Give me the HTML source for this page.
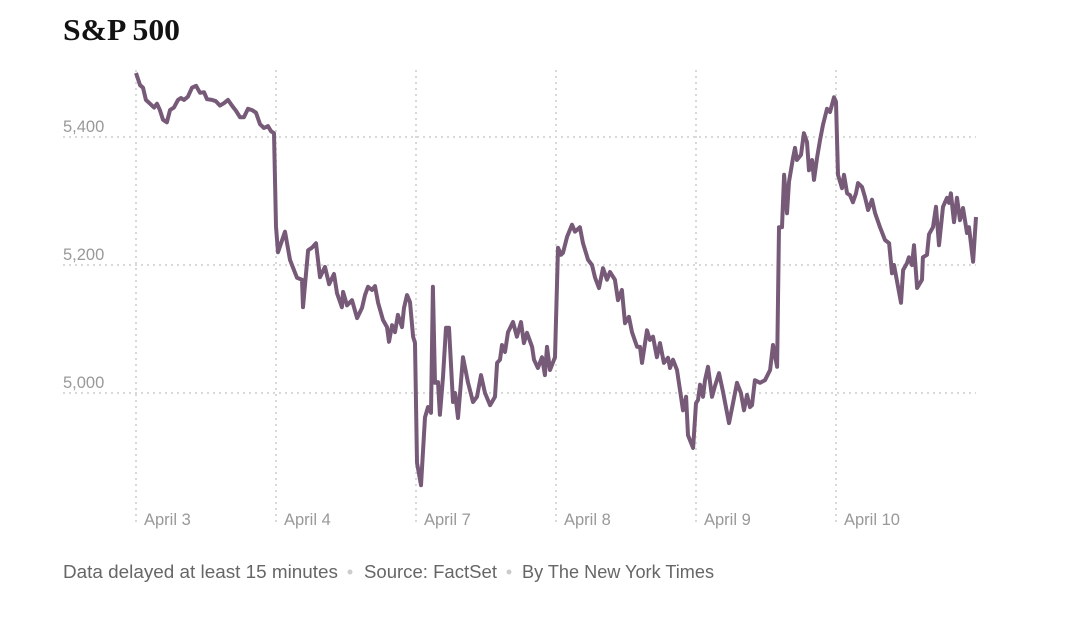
<!DOCTYPE html>
<html><head><meta charset="utf-8"><style>
body{margin:0;background:#fff;width:1080px;height:632px;overflow:hidden;font-family:"Liberation Sans",sans-serif}
</style></head><body>
<svg width="1080" height="632">
<text x="63" y="40" font-family="Liberation Serif,serif" font-weight="bold" font-size="31" fill="#121212" textLength="117" lengthAdjust="spacingAndGlyphs">S&amp;P 500</text>
<g id="grid"></g>
<g id="labels"></g>
<path id="line" fill="none" stroke="#765a78" stroke-width="4" stroke-linejoin="round"/>
<g font-size="18" fill="#666">
<text x="63" y="578" textLength="275" lengthAdjust="spacingAndGlyphs">Data delayed at least 15 minutes</text>
<circle cx="350" cy="572" r="2.5" fill="#ccc"/>
<text x="364" y="578" textLength="133" lengthAdjust="spacingAndGlyphs">Source: FactSet</text>
<circle cx="509" cy="572" r="2.5" fill="#ccc"/>
<text x="522" y="578" textLength="192" lengthAdjust="spacingAndGlyphs">By The New York Times</text>
</g>
</svg>
<script>
const yTicks=[5000,5200,5400];
const yTickLabels=["5,000","5,200","5,400"];
const dayLabels=["April 3","April 4","April 7","April 8","April 9","April 10"];
const times=[0,.029,.05,.071,.1,.129,.15,.171,.193,.221,.243,.271,.3,.321,.343,.371,.4,.429,.457,.486,.507,.543,.571,.6,.629,.657,.686,.714,.743,.771,.8,.829,.857,.886,.914,.943,.964,.986,
1.0,1.014,1.064,1.1,1.15,1.186,1.193,1.229,1.257,1.286,1.314,1.35,1.379,1.414,1.436,1.471,1.479,1.507,1.543,1.579,1.614,1.636,1.657,1.686,1.707,1.729,1.764,1.793,1.807,1.829,1.85,1.871,1.9,1.914,1.936,1.957,1.979,1.993,
2.007,2.036,2.064,2.086,2.107,2.121,2.136,2.157,2.171,2.193,2.214,2.236,2.264,2.279,2.3,2.336,2.371,2.407,2.436,2.464,2.493,2.529,2.564,2.579,2.6,2.614,2.636,2.657,2.693,2.721,2.75,2.771,2.793,2.829,2.843,2.871,2.9,2.921,2.936,2.957,2.993,
3.014,3.036,3.05,3.079,3.114,3.136,3.171,3.193,3.229,3.257,3.279,3.307,3.336,3.364,3.386,3.421,3.443,3.471,3.493,3.521,3.543,3.579,3.6,3.614,3.65,3.671,3.693,3.721,3.743,3.771,3.8,3.814,3.836,3.864,3.893,3.907,3.929,3.943,3.979,
4.0,4.014,4.029,4.05,4.064,4.086,4.114,4.136,4.164,4.193,4.236,4.264,4.293,4.321,4.343,4.364,4.386,4.4,4.421,4.457,4.493,4.529,4.55,4.579,4.593,4.614,4.629,4.65,4.664,4.693,4.707,4.721,4.75,4.771,4.793,4.807,4.829,4.843,4.864,4.886,4.907,4.936,4.957,4.986,
5.0,5.014,5.043,5.057,5.079,5.1,5.121,5.143,5.157,5.186,5.207,5.229,5.257,5.279,5.314,5.35,5.379,5.4,5.414,5.464,5.479,5.507,5.521,5.543,5.557,5.579,5.614,5.621,5.65,5.664,5.693,5.714,5.736,5.764,5.793,5.807,5.821,5.843,5.864,5.886,5.907,5.936,5.95,5.979,6.0];
const values=[5500,5481,5477,5458,5452,5446,5452,5442,5427,5423,5442,5446,5458,5461,5458,5463,5477,5480,5469,5470,5459,5458,5456,5449,5453,5458,5449,5441,5431,5431,5444,5442,5438,5420,5414,5417,5409,5406,
5260,5220,5252,5208,5180,5177,5134,5223,5227,5234,5181,5197,5170,5186,5156,5134,5158,5137,5145,5117,5133,5153,5166,5161,5167,5141,5114,5103,5080,5106,5095,5122,5103,5133,5153,5142,5088,5078,
4891,4856,4962,4978,4969,5166,5016,5017,4966,5025,5102,5102,4986,5000,4961,5056,5017,4986,4994,5028,5000,4981,4994,5047,5052,5075,5064,5095,5111,5088,5111,5078,5094,5072,5052,5039,5056,5028,5072,5036,5056,
5227,5216,5219,5244,5263,5252,5259,5234,5208,5200,5180,5164,5195,5177,5189,5177,5145,5161,5109,5119,5095,5072,5072,5047,5098,5083,5088,5056,5078,5047,5055,5039,5052,5036,4994,4973,4994,4934,4914,
4984,4989,5013,4994,5020,5041,4994,5011,5031,5002,4953,4984,5016,5000,4973,4997,4978,4981,5020,5016,5020,5036,5075,5041,5259,5259,5341,5281,5330,5367,5383,5364,5372,5406,5392,5348,5364,5333,5367,5395,5419,5444,5439,5462,
5455,5341,5320,5341,5312,5309,5298,5312,5328,5322,5306,5286,5302,5281,5259,5239,5234,5187,5200,5141,5192,5203,5212,5200,5231,5164,5177,5212,5216,5248,5259,5291,5231,5291,5305,5297,5312,5267,5305,5270,5289,5250,5259,5205,5275];
const NS="http://www.w3.org/2000/svg";
const X=t=>136+t*140, Y=v=>137+(5400-v)*0.64;
const grid=document.getElementById('grid'), labels=document.getElementById('labels');
function mk(tag,attrs,parent){const e=document.createElementNS(NS,tag);for(const k in attrs)e.setAttribute(k,attrs[k]);parent.appendChild(e);return e;}
yTicks.forEach((v,i)=>{
  const l=mk('line',{x1:63,x2:976,y1:Y(v),y2:Y(v),stroke:'#d9d9d9','stroke-width':2,'stroke-dasharray':'2 4'},grid);
  
  
  const t=mk('text',{x:63,y:Y(v)-5,'font-size':16.5,fill:'#999'},labels);t.textContent=yTickLabels[i];
  
  
});
dayLabels.forEach((d,i)=>{
  const l=mk('line',{x1:X(i),x2:X(i),y1:70,y2:526,stroke:'#d9d9d9','stroke-width':2,'stroke-dasharray':'2 4'},grid);
  
  
  const t=mk('text',{x:X(i)+8,y:525,'font-size':16.5,fill:'#999'},labels);t.textContent=d;
  
  
});
document.getElementById('line').setAttribute('d',times.map((t,i)=>(i?'L':'M')+X(t).toFixed(1)+','+Y(values[i]).toFixed(1)).join(''));
</script>
</body></html>
